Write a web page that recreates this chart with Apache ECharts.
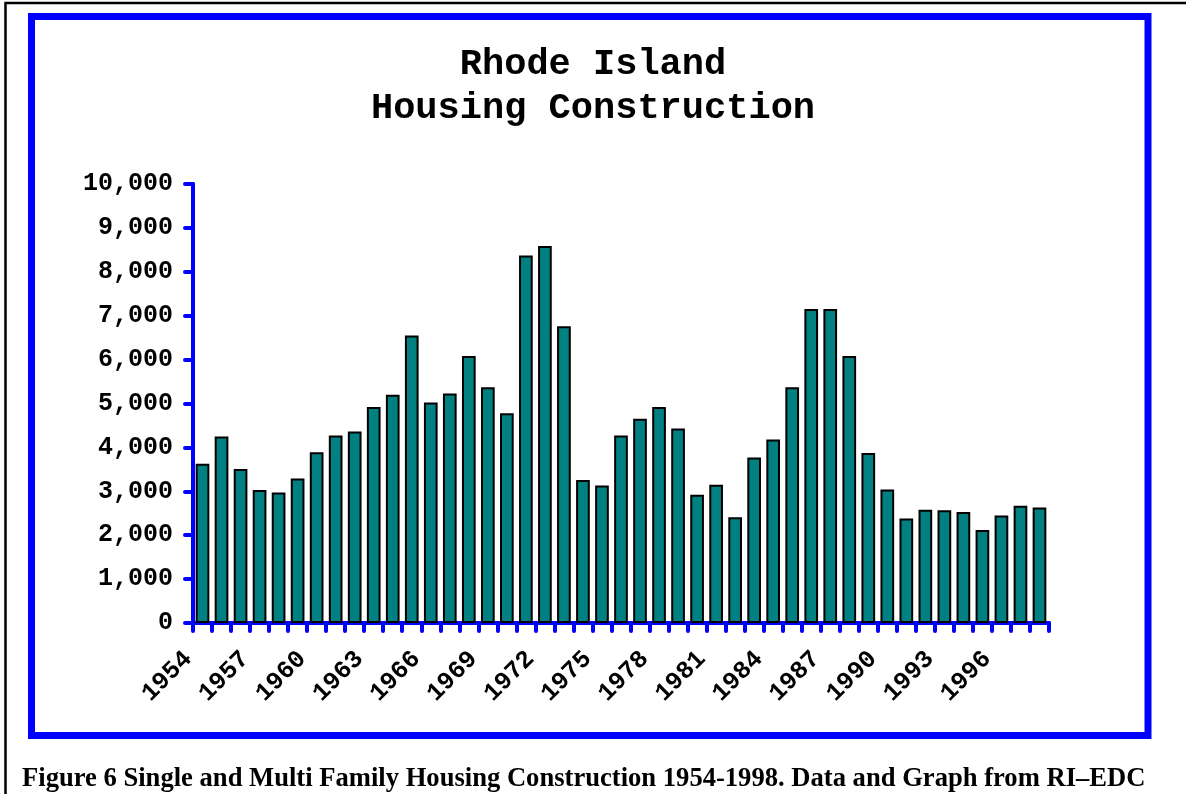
<!DOCTYPE html>
<html>
<head>
<meta charset="utf-8">
<title>Rhode Island Housing Construction</title>
<script src="https://cdn.jsdelivr.net/npm/echarts@6/dist/echarts.min.js"></script>
<style>
  html, body { margin: 0; padding: 0; background: #fff; }
  #chart { width: 1186px; height: 794px; }
</style>
</head>
<body>
<div id="chart"></div>
<script>
// years on the category axis
const years = []
for (let y = 1954; y <= 1998; y++) years.push(String(y))

// housing units built per year
const units = [
  3630, 4250, 3510, 3030, 2970, 3290, 3890, 4270, 4360, 4920,
  5200, 6550, 5020, 5230, 6080, 5370, 4780, 8370, 8590, 6760,
  3260, 3130, 4270, 4650, 4920, 4430, 2920, 3150, 2410, 3770,
  4180, 5370, 7150, 7150, 6080, 3870, 3040, 2380, 2580, 2570,
  2530, 2120, 2450, 2670, 2630
]

const titleLines = ['Rhode Island', 'Housing Construction']
const caption = 'Figure 6 Single and Multi Family Housing Construction 1954-1998. Data and Graph from RI\u2013EDC'

const monoFont = '"Liberation Mono", "Courier New", monospace'
const blue = '#0000ff'

const chart = echarts.init(document.getElementById('chart'))

const option = {
  animation: false,
  backgroundColor: '#fff',
  title: {
    text: titleLines.join('\n'),
    left: 'center',
    top: 38,
    textStyle: {
      fontFamily: monoFont,
      fontWeight: 'bold',
      fontSize: 37,
      lineHeight: 44,
      color: '#000'
    }
  },
  grid: {
    left: 193,
    right: 137,
    top: 184,
    bottom: 171
  },
  xAxis: {
    type: 'category',
    data: years,
    axisLine: {
      lineStyle: { color: blue, width: 4, cap: 'round' }
    },
    axisTick: {
      show: true,
      interval: 0,
      length: 8,
      lineStyle: { color: blue, width: 4, cap: 'round' }
    },
    axisLabel: {
      interval: 2,
      rotate: 45,
      margin: 18,
      padding: [0, 20, 0, 0],
      fontFamily: monoFont,
      fontWeight: 'bold',
      fontSize: 25,
      color: '#000'
    },
    splitLine: { show: false }
  },
  yAxis: {
    type: 'value',
    min: 0,
    max: 10000,
    interval: 1000,
    axisLine: {
      show: true,
      lineStyle: { color: blue, width: 4, cap: 'round' }
    },
    axisTick: {
      show: true,
      length: 8,
      lineStyle: { color: blue, width: 4, cap: 'round' }
    },
    axisLabel: {
      margin: 20,
      fontFamily: monoFont,
      fontWeight: 'bold',
      fontSize: 25,
      color: '#000',
      formatter: (v) => v.toLocaleString('en-US')
    },
    splitLine: { show: false }
  },
  series: [
    {
      type: 'bar',
      data: units,
      barCategoryGap: '28%',
      itemStyle: {
        color: '#008080',
        borderColor: '#000',
        borderWidth: 2
      }
    }
  ],
  graphic: [
    // blue frame round the chart
    {
      type: 'rect',
      shape: { x: 31.5, y: 16.5, width: 1116.5, height: 719 },
      style: { fill: null, stroke: blue, lineWidth: 7 },
      silent: true
    },
    // thin black page border (top and left)
    {
      type: 'polyline',
      shape: { points: [[5.5, 794], [5.5, 3], [1186, 3]] },
      style: { fill: null, stroke: '#000', lineWidth: 2.5 },
      silent: true
    },
    {
      type: 'text',
      left: 22,
      top: 766,
      style: {
        text: caption,
        fontFamily: '"Liberation Serif", "Times New Roman", serif',
        fontWeight: 'bold',
        fontSize: 26.6,
        fill: '#000'
      }
    }
  ]
}

chart.setOption(option)
</script>
</body>
</html>
